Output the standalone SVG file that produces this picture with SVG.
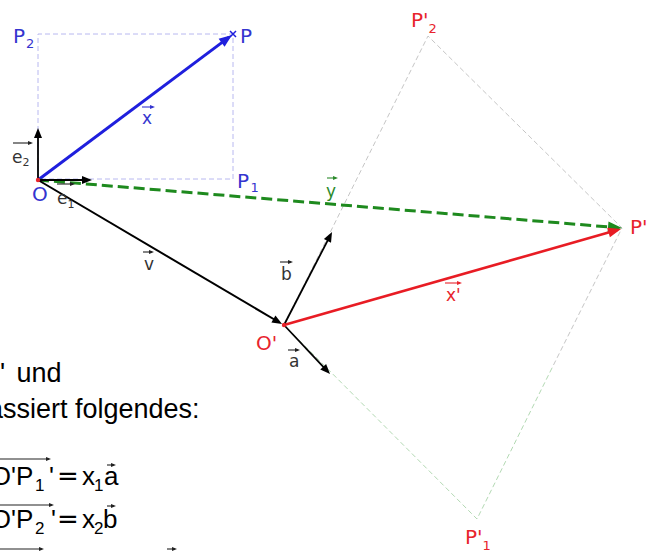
<svg xmlns="http://www.w3.org/2000/svg" width="652" height="553" viewBox="0 0 652 553">
<style>
.lbl{font-family:"DejaVu Sans",Verdana,sans-serif;font-size:20px}
.sub{font-size:13px}
.vl{font-family:"DejaVu Sans",Verdana,sans-serif;font-size:17px}
.vsub{font-size:11px}
.blue{fill:#3535cf}
.red{fill:#e8242c}
.green{fill:#2c8a2c}
.blk{fill:#333333}
.txt{font-family:"Liberation Sans",Arial,sans-serif;fill:#000000;font-size:26px}
.big{font-size:27px}
.fs{font-size:17px}
.eq{font-family:"DejaVu Sans",sans-serif}
.va{stroke-width:1.1;fill:none}
.aux{fill:none;stroke-width:1;stroke-dasharray:5 3}
</style>
<defs>
<marker id="mk-blk" markerUnits="userSpaceOnUse" markerWidth="12" markerHeight="10" refX="6" refY="4" orient="auto" overflow="visible"><path d="M0,0 L10,4 L0,8 z" fill="#000"/></marker>
<marker id="mk-blue" markerUnits="userSpaceOnUse" markerWidth="15" markerHeight="12" refX="9" refY="5" orient="auto" overflow="visible"><path d="M0,0 L13,5 L0,10 z" fill="#1f1fdd"/></marker>
<marker id="mk-green" markerUnits="userSpaceOnUse" markerWidth="16" markerHeight="12" refX="10" refY="5.5" orient="auto" overflow="visible"><path d="M0,0 L14,5.5 L0,11 z" fill="#1e8a1e"/></marker>
<marker id="mk-red" markerUnits="userSpaceOnUse" markerWidth="15" markerHeight="12" refX="9" refY="5" orient="auto" overflow="visible"><path d="M0,0 L13,5 L0,10 z" fill="#e81c24"/></marker>
<marker id="sm-blk" markerUnits="userSpaceOnUse" markerWidth="6" markerHeight="5" refX="3" refY="2" orient="auto" overflow="visible"><path d="M0,0 L5,2 L0,4 z" fill="#222"/></marker>
<marker id="sm-blue" markerUnits="userSpaceOnUse" markerWidth="6" markerHeight="5" refX="3" refY="2" orient="auto" overflow="visible"><path d="M0,0 L5,2 L0,4 z" fill="#3535cf"/></marker>
<marker id="sm-green" markerUnits="userSpaceOnUse" markerWidth="6" markerHeight="5" refX="3" refY="2" orient="auto" overflow="visible"><path d="M0,0 L5,2 L0,4 z" fill="#2c8a2c"/></marker>
<marker id="sm-red" markerUnits="userSpaceOnUse" markerWidth="6" markerHeight="5" refX="3" refY="2" orient="auto" overflow="visible"><path d="M0,0 L5,2 L0,4 z" fill="#e8242c"/></marker>
</defs>
<rect width="652" height="553" fill="#ffffff"/>

<g id="connectors">
  <path class="aux" stroke="#b8b8f0" d="M38,179 V34 H233 V179 H38"/>
  <path class="aux" stroke="#c6c6c6" d="M284,325 L428,36 L622,228 L552,368"/>
  <path class="aux" stroke="#b3d9b3" d="M552,368 L477,519 L284,325"/>
  <line x1="38" y1="180" x2="228.8" y2="37.4" stroke="#1f1fdd" stroke-width="3" marker-end="url(#mk-blue)"/>
  <line x1="38" y1="180" x2="618" y2="227.7" stroke="#1e8a1e" stroke-width="3" stroke-dasharray="11 5" marker-end="url(#mk-green)"/>
  <line x1="38" y1="180" x2="278.6" y2="322" stroke="#000" stroke-width="2" marker-end="url(#mk-blk)"/>
  <line x1="38" y1="180" x2="88" y2="180" stroke="#000" stroke-width="1.8" marker-end="url(#mk-blk)"/>
  <line x1="38" y1="180" x2="38" y2="132" stroke="#000" stroke-width="1.8" marker-end="url(#mk-blk)"/>
  <line x1="284" y1="325" x2="617.2" y2="230.1" stroke="#e81c24" stroke-width="2.6" marker-end="url(#mk-red)"/>
  <line x1="284" y1="325" x2="330.2" y2="235.6" stroke="#000" stroke-width="1.8" marker-end="url(#mk-blk)"/>
  <line x1="284" y1="325" x2="327.3" y2="371.1" stroke="#000" stroke-width="1.8" marker-end="url(#mk-blk)"/>
</g>

<g id="vector-labels">
  <g id="lbl-x"><path class="va" stroke="#3535cf" d="M142,107 H153" marker-end="url(#sm-blue)"/><text class="vl blue" x="142" y="124">x</text></g>
  <g id="lbl-e2"><path class="va" stroke="#222" d="M13,143 H31" marker-end="url(#sm-blk)"/><text class="vl blk" x="12" y="163">e<tspan class="vsub" dy="3">2</tspan></text></g>
  <g id="lbl-e1"><path class="va" stroke="#222" d="M57,184 H73" marker-end="url(#sm-blk)"/><text class="vl blk" x="57" y="204">e<tspan class="vsub" dy="4">1</tspan></text></g>
  <g id="lbl-v"><path class="va" stroke="#222" d="M143,252 H152" marker-end="url(#sm-blk)"/><text class="vl blk" x="144" y="270">v</text></g>
  <g id="lbl-b"><path class="va" stroke="#222" d="M280,262 H291" marker-end="url(#sm-blk)"/><text class="vl blk" x="281" y="280">b</text></g>
  <g id="lbl-a"><path class="va" stroke="#222" d="M288,350 H298" marker-end="url(#sm-blk)"/><text class="vl blk" x="289" y="367">a</text></g>
  <g id="lbl-y"><path class="va" stroke="#2c8a2c" d="M327,178 H336" marker-end="url(#sm-green)"/><text class="vl green" x="326" y="197">y</text></g>
  <g id="lbl-x2"><path class="va" stroke="#e8242c" d="M445,283 H460" marker-end="url(#sm-red)"/><text class="vl red" x="446" y="301">x'</text></g>
</g>

<g id="node-O"><circle cx="38" cy="180" r="2.2" fill="#e8242c"/><text class="lbl blue" x="32" y="201">O</text></g>
<g id="node-P"><path d="M230,31 L236,37 M236,31 L230,37" stroke="#1f1fdd" stroke-width="1.5"/><text class="lbl blue" x="240" y="43">P</text></g>
<g id="node-P1"><text class="lbl blue" x="237" y="188">P<tspan class="sub" dx="1.5" dy="4">1</tspan></text></g>
<g id="node-P2"><text class="lbl blue" x="13" y="43">P<tspan class="sub" dx="1" dy="5">2</tspan></text></g>
<g id="node-O2"><circle cx="284" cy="325" r="2.2" fill="#e8242c"/><text class="lbl red" x="256" y="350">O'</text></g>
<g id="node-Pp"><text class="lbl red" x="630" y="234">P'</text></g>
<g id="node-Pp2"><text class="lbl red" x="411" y="27">P'<tspan class="sub" dy="6">2</tspan></text></g>
<g id="node-Pp1"><text class="lbl red" x="465" y="544">P'<tspan class="sub" dy="6">1</tspan></text></g>

<g id="text-block">
  <text class="txt big" y="382"><tspan x="0">'</tspan><tspan x="16.5">und</tspan></text>
  <text class="txt big" x="-12" y="418">assiert folgendes:</text>
  <text class="txt" y="485"><tspan x="-9.2">O'P</tspan><tspan class="fs" x="35" y="491">1</tspan><tspan x="49" y="485">'</tspan><tspan class="eq" x="57">=</tspan><tspan x="82">x</tspan><tspan class="fs" x="94" y="491">1</tspan><tspan x="104" y="485">a</tspan></text>
  <text class="txt" y="528"><tspan x="-9.2">O'P</tspan><tspan class="fs" x="35" y="534">2</tspan><tspan x="51" y="528">'</tspan><tspan class="eq" x="57">=</tspan><tspan x="82">x</tspan><tspan class="fs" x="94" y="534">2</tspan><tspan x="103" y="528">b</tspan></text>
  <g stroke="#222" stroke-width="1.1" fill="none">
    <path d="M0,459 H49" marker-end="url(#sm-blk)"/>
    <path d="M107,465 H114" marker-end="url(#sm-blk)"/>
    <path d="M0,505 H52" marker-end="url(#sm-blk)"/>
    <path d="M107,506 H114" marker-end="url(#sm-blk)"/>
    <path d="M0,549 H42" marker-end="url(#sm-blk)"/>
    <path d="M167,549 H175" marker-end="url(#sm-blk)"/>
  </g>
</g>
</svg>
